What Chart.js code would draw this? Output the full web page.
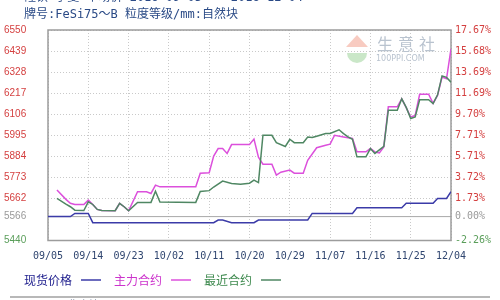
<!DOCTYPE html>
<html>
<head>
<meta charset="utf-8">
<script src="https://cdn.jsdelivr.net/npm/chart.js@4.4.1/dist/chart.umd.min.js"></script>
<style>
  html, body { margin: 0; padding: 0; background: #fff; }
  #wrap { width: 500px; height: 300px; position: relative; }
</style>
</head>
<body>
<div id="wrap"><canvas id="c" width="500" height="300"></canvas></div>
<script>
// ---- data ----
const baseValue = 5566; // 0.00% reference price

const tickDates = ["09/05","09/14","09/23","10/02","10/11","10/20","10/29","11/07","11/16","11/25","12/04"];
const priceTicks = [5440, 5566, 5662, 5773, 5884, 5995, 6106, 6217, 6328, 6439, 6550];
const priceTickLabels = ["5440","5566","5662","5773","5884","5995","6106","6217","6328","6439","6550"];
const changeTickLabels = ["-2.26%","0.00%","1.73%","3.72%","5.71%","7.71%","9.70%","11.69%","13.69%","15.68%","17.67%"];

const seriesNames = ["现货价格", "主力合约", "最近合约"];

const spotDates = ["09/05","09/10","09/11","09/14","09/15","10/12","10/13","10/14","10/16","10/21","10/22",
                   "11/02","11/03","11/12","11/13","11/23","11/24","11/30","12/01","12/03","12/04"];
const spotPrices = [5566,5566,5583,5583,5534,5534,5548,5548,5534,5534,5548,
                    5548,5583,5583,5613,5613,5636,5636,5662,5662,5697];

const mainDates = ["09/07","09/09","09/10","09/11","09/13","09/14","09/15","09/16","09/17","09/20","09/21","09/22","09/23",
                   "09/25","09/27","09/28","09/29","09/30","10/08","10/09","10/11","10/12","10/13","10/14","10/15","10/16",
                   "10/20","10/21","10/22","10/23","10/25","10/26","10/27","10/29","10/30","11/01","11/02","11/04","11/06",
                   "11/07","11/08","11/10","11/12","11/13","11/15","11/16","11/17","11/18","11/19","11/20","11/22","11/23",
                   "11/24","11/25","11/26","11/27","11/29","11/30","12/01","12/02","12/03","12/04"];
const mainPrices = [5706,5657,5636,5630,5630,5653,5630,5604,5598,5597,5636,5618,5597,
                    5697,5697,5688,5732,5723,5723,5795,5797,5885,5925,5925,5899,5946,
                    5946,5975,5879,5842,5842,5785,5800,5811,5795,5795,5863,5929,5942,
                    5948,5995,5986,5978,5908,5908,5925,5907,5902,5933,6145,6145,6187,
                    6141,6091,6100,6211,6211,6163,6205,6302,6293,6451];

const nearDates = ["09/07","09/09","09/10","09/11","09/13","09/14","09/15","09/16","09/17","09/20","09/21","09/22","09/23",
                   "09/25","09/28","09/29","09/30","10/08","10/09","10/11","10/12","10/14","10/16","10/18","10/20","10/21",
                   "10/22","10/23","10/25","10/26","10/28","10/29","10/30","11/01","11/02","11/03","11/04","11/06","11/07",
                   "11/09","11/10","11/11","11/12","11/13","11/15","11/16","11/17","11/19","11/20","11/22","11/23","11/24",
                   "11/25","11/26","11/27","11/29","11/30","12/01","12/02","12/03","12/04"];
const nearPrices = [5662,5632,5618,5600,5598,5644,5630,5604,5598,5597,5636,5618,5597,
                    5641,5641,5700,5643,5641,5698,5703,5722,5753,5741,5737,5742,5758,
                    5745,5995,5995,5956,5936,5974,5956,5956,5986,5983,5990,6004,6004,
                    6024,6004,5986,5974,5881,5881,5925,5899,5936,6127,6127,6187,6142,
                    6083,6091,6182,6182,6162,6208,6308,6300,6275];

// ---- helpers ----
const firstDate = tickDates[0];
function dayOffset(md) {
  const [m, d] = md.split('/').map(Number);
  const [m0, d0] = firstDate.split('/').map(Number);
  return Math.round((Date.UTC(2016, m - 1, d) - Date.UTC(2016, m0 - 1, d0)) / 86400000);
}
function points(dates, values) {
  return dates.map((d, i) => ({ x: dayOffset(d), y: values[i] }));
}

const RED = '#d43f3f', GREEN = '#5a9e5a', GRAY = '#9a9a9a';
function levelColor(v) {
  if (v > baseValue) return RED;
  if (v < baseValue) return GREEN;
  return GRAY;
}

const legendTextColors = ['#1c1c8c', '#cc33cc', '#3f8a4f'];

// ---- decorations: frame, baseline, watermark, heading, legend ----
const decor = {
  id: 'decor',
  beforeDatasetsDraw(chart) {
    const { ctx, chartArea: a, scales } = chart;
    ctx.save();
    // watermark
    ctx.globalAlpha = 0.55;
    ctx.fillStyle = '#f2a08e';
    ctx.beginPath();
    ctx.moveTo(346, 47); ctx.lineTo(357, 35); ctx.lineTo(368, 47); ctx.closePath(); ctx.fill();
    ctx.fillStyle = '#9fd49a';
    ctx.beginPath();
    ctx.moveTo(347, 53); ctx.arc(357, 53, 10, 0, Math.PI, false); ctx.closePath(); ctx.fill();
    ctx.globalAlpha = 1;
    ctx.fillStyle = '#b9c3cf';
    ctx.font = '16px "Noto Sans CJK SC"';
    ctx.textBaseline = 'middle';
    ctx.textAlign = 'left';
    ['生', '意', '社'].forEach((ch, i) => ctx.fillText(ch, 377 + i * 21, 44));
    ctx.font = '8px "DejaVu Sans"';
    ctx.fillText('100PPI.COM', 376, 59);
    // 0.00% reference line
    const yb = scales.y.getPixelForValue(baseValue);
    ctx.strokeStyle = '#a8a8a8';
    ctx.lineWidth = 1;
    ctx.beginPath(); ctx.moveTo(a.left, yb); ctx.lineTo(a.right, yb); ctx.stroke();
    // plot frame
    ctx.strokeStyle = '#9c9c9c';
    ctx.lineWidth = 1.5;
    ctx.strokeRect(a.left, a.top, a.right - a.left, a.bottom - a.top);
    ctx.restore();
  },
  afterDraw(chart) {
    const { ctx } = chart;
    ctx.save();
    // heading lines
    ctx.textAlign = 'left';
    ctx.textBaseline = 'bottom';
    ctx.fillStyle = '#2a4a86';
    ctx.font = '12px "DejaVu Sans Mono", "Noto Sans CJK SC"';
    ctx.fillText('硅铁 宁夏 市场价 2016-09-05 -- 2016-12-04', 24, 4);
    ctx.textBaseline = 'middle';
    ctx.fillText('牌号:FeSi75～B 粒度等级/mm:自然块', 24, 15);
    // legend: name followed by a line sample
    let x = 24;
    const y = 280;
    ctx.font = '12px "Noto Sans CJK SC"';
    chart.data.datasets.forEach((ds, i) => {
      ctx.fillStyle = legendTextColors[i];
      ctx.fillText(ds.label, x, y);
      x += ctx.measureText(ds.label).width + 9;
      ctx.strokeStyle = ds.borderColor;
      ctx.lineWidth = 1.5;
      ctx.beginPath(); ctx.moveTo(x, y); ctx.lineTo(x + 20, y); ctx.stroke();
      x += 20 + 13;
    });
    // footer rule
    ctx.strokeStyle = '#a0a0a0';
    ctx.lineWidth = 1.5;
    ctx.beginPath(); ctx.moveTo(10, 297); ctx.lineTo(490, 297); ctx.stroke();
    ctx.fillStyle = '#8a96aa';
    ctx.font = '10px "Noto Sans CJK SC"';
    ctx.textBaseline = 'top';
    ctx.fillText('2016.12   生意社', 26, 299);
    ctx.textAlign = 'right';
    ctx.fillText('100PPI', 466, 299);
    ctx.restore();
  }
};

const gridColor = c => (c.tick && c.tick.value === baseValue) ? 'rgba(0,0,0,0)' : '#c9c9c9';

new Chart(document.getElementById('c'), {
  type: 'line',
  data: {
    datasets: [
      { label: seriesNames[0], data: points(spotDates, spotPrices), borderColor: '#3b3ba8', order: 2 },
      { label: seriesNames[1], data: points(mainDates, mainPrices), borderColor: '#dc50dc', order: 1 },
      { label: seriesNames[2], data: points(nearDates, nearPrices), borderColor: '#4f8763', order: 0 }
    ]
  },
  options: {
    responsive: false,
    animation: false,
    layout: { padding: { left: 4, right: 0, top: 30, bottom: 39.5 } },
    elements: {
      line: { borderWidth: 1.5, tension: 0, fill: false },
      point: { radius: 0, hoverRadius: 0 }
    },
    plugins: { legend: { display: false }, tooltip: { enabled: false }, title: { display: false } },
    scales: {
      x: {
        type: 'linear',
        min: dayOffset(tickDates[0]),
        max: dayOffset(tickDates[tickDates.length - 1]),
        afterBuildTicks: s => { s.ticks = tickDates.map(d => ({ value: dayOffset(d) })); },
        afterFit: s => { s.height = 20; },
        ticks: {
          autoSkip: false, maxRotation: 0, padding: 10,
          color: '#304670',
          font: { family: 'DejaVu Sans Mono', size: 10 },
          callback: (v, i) => tickDates[i]
        },
        grid: { color: '#c9c9c9', lineWidth: 1, drawTicks: false },
        border: { display: false, dash: [1, 2] }
      },
      y: {
        position: 'left',
        min: priceTicks[0],
        max: priceTicks[priceTicks.length - 1],
        afterBuildTicks: s => { s.ticks = priceTicks.map(v => ({ value: v })); },
        afterFit: s => { s.width = 44; },
        ticks: {
          crossAlign: 'far', padding: 0,
          color: c => levelColor(c.tick.value),
          font: { family: 'Liberation Sans', size: 10 },
          callback: (v, i) => priceTickLabels[i]
        },
        grid: { color: gridColor, lineWidth: 1, drawTicks: false },
        border: { display: false, dash: [1, 2] }
      },
      y1: {
        position: 'right',
        min: priceTicks[0],
        max: priceTicks[priceTicks.length - 1],
        afterBuildTicks: s => { s.ticks = priceTicks.map(v => ({ value: v })); },
        afterFit: s => { s.width = 49; },
        ticks: {
          padding: 4,
          color: c => levelColor(c.tick.value),
          font: { family: 'DejaVu Sans Mono', size: 10 },
          callback: (v, i) => changeTickLabels[i]
        },
        grid: { display: false, drawTicks: false },
        border: { display: false }
      }
    }
  },
  plugins: [decor]
});
</script>
</body>
</html>
